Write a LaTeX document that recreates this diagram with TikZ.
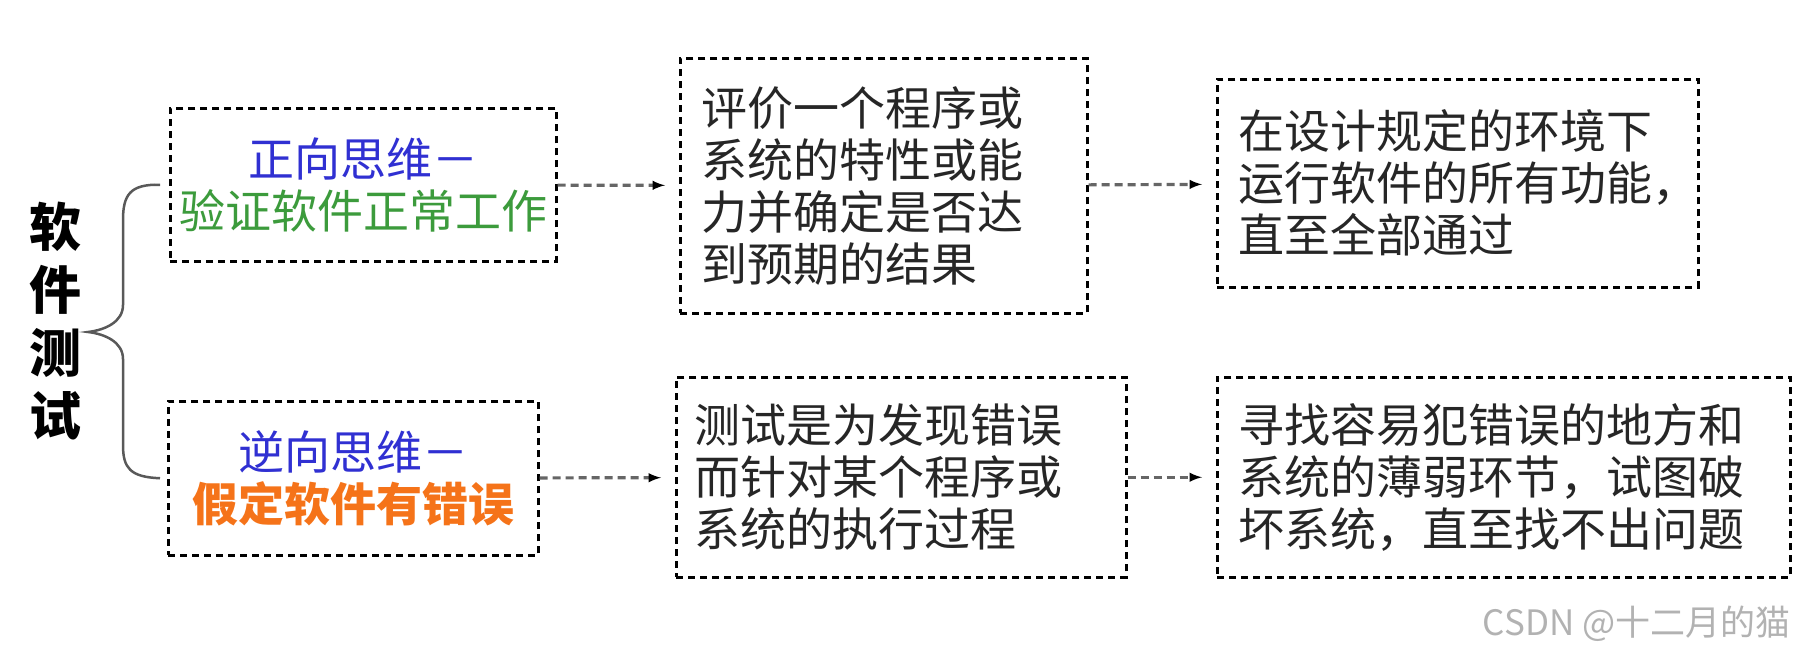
\documentclass[tikz,border=0pt]{standalone}
\usepackage{fontspec}
\setmainfont{Noto Sans CJK SC}
\usetikzlibrary{arrows}
\definecolor{thinkblue}{RGB}{48,48,210}
\definecolor{verifygreen}{RGB}{60,155,60}
\definecolor{errorange}{RGB}{245,115,25}

\begin{document}
\begin{tikzpicture}[x=1pt, y=-1pt]
\tikzstyle{box}=[draw, line width=2.5pt, dash pattern=on 7pt off 5pt, anchor=north west, inner ysep=0pt, align=left, inner xsep=21pt, font=\fontsize{46}{52}\selectfont, text=black!85]
\tikzstyle{flow}=[draw=black!60, line width=3.2pt, dash pattern=on 8pt off 5pt, shorten >=14pt, -latex]
\useasboundingbox (0,0) rectangle (1796,653);

\node[font=\fontsize{52}{63}\selectfont\bfseries, align=center] (ruanjian) at (55,321) {软\\件\\测\\试};
\coordinate (tip) at (88,332);

\node[box, align=center, inner xsep=9pt, text width=368pt, minimum height=153pt] (zheng) at (169,107)
   {\textcolor{thinkblue}{正向思维－}\\\textcolor{verifygreen}{验证软件正常工作}};
\node[box, align=center, inner xsep=9pt, text width=352pt, minimum height=154pt] (fan) at (167,400)
   {\textcolor{thinkblue}{逆向思维－}\\\textcolor{errorange}{\bfseries 假定软件有错误}};

\node[box, text width=365pt, minimum height=255pt] (pingjia) at (679,57)
   {评价一个程序或\\系统的特性或能\\力并确定是否达\\到预期的结果};
\node[box, text width=439pt, minimum height=208pt] (sheji) at (1216,78)
   {在设计规定的环境下\\运行软件的所有功能，\\直至全部通过};
\node[box, inner xsep=18pt, text width=414pt, minimum height=200pt] (ceshi) at (675,376)
   {测试是为发现错误\\而针对某个程序或\\系统的执行过程};
\node[box, text width=531pt, minimum height=200pt] (xunzhao) at (1216,376)
   {寻找容易犯错误的地方和\\系统的薄弱环节，试图破\\坏系统，直至找不出问题};

% brace
\draw[black!65, line width=2.5pt]
   ([xshift=-9pt]zheng.west) .. controls (130,184) and (123,195) .. (123,220)
   -- (123,305) .. controls (123,322) and (105,330) .. (tip)
   .. controls (105,334) and (123,342) .. (123,359)
   -- (123,445) .. controls (123,468) and (130,477) .. ([xshift=-7pt]fan.west);

\path[flow]
   (zheng) edge (pingjia)
   (pingjia) edge (sheji)
   (fan) edge (ceshi)
   (ceshi) edge (xunzhao);

\node[text=black!30, font=\fontsize{35}{40}\selectfont, anchor=east] (csdn) at (1794,624) {CSDN @十二月的猫};
\end{tikzpicture}
\end{document}
